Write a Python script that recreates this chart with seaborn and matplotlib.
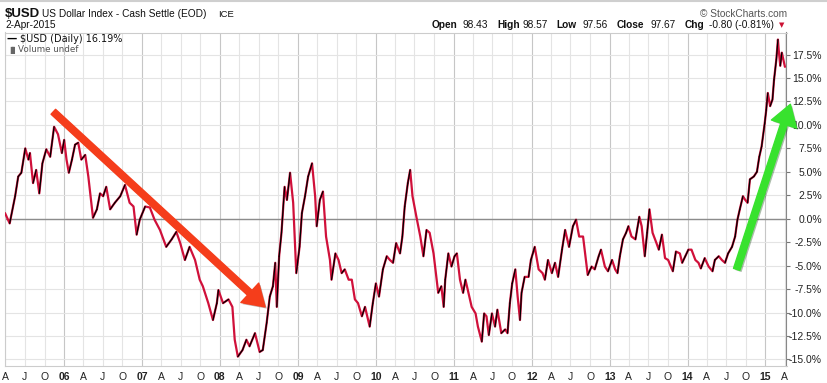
import matplotlib
matplotlib.use("Agg")
import matplotlib.pyplot as plt
import matplotlib.dates as mdates
import matplotlib.patheffects as pe
import seaborn as sns
import pandas as pd
import numpy as np

# readings: decimal year and % change since start, one row per year
dec_years = [
    2005.24, 2005.30, 2005.37, 2005.41, 2005.45, 2005.50, 2005.54, 2005.56, 2005.60, 2005.64, 2005.68, 2005.72, 2005.77, 2005.82, 2005.87, 2005.92, 2005.97,
    2006.00, 2006.03, 2006.06, 2006.10, 2006.14, 2006.18, 2006.22, 2006.27, 2006.31, 2006.37, 2006.42, 2006.46, 2006.50, 2006.54, 2006.59, 2006.65, 2006.72, 2006.78, 2006.84, 2006.89, 2006.93, 2006.97,
    2007.04, 2007.10, 2007.16, 2007.23, 2007.31, 2007.38, 2007.44, 2007.49, 2007.55, 2007.61, 2007.68, 2007.74, 2007.78, 2007.85, 2007.91, 2007.96, 2007.98,
    2008.04, 2008.11, 2008.16, 2008.19, 2008.23, 2008.29, 2008.34, 2008.38, 2008.45, 2008.51, 2008.55, 2008.60, 2008.64, 2008.68, 2008.71, 2008.73, 2008.76, 2008.79, 2008.83, 2008.86, 2008.90, 2008.94, 2008.98,
    2009.02, 2009.05, 2009.09, 2009.13, 2009.18, 2009.22, 2009.24, 2009.28, 2009.32, 2009.36, 2009.41, 2009.43, 2009.48, 2009.52, 2009.56, 2009.60, 2009.65, 2009.69, 2009.73, 2009.77, 2009.82, 2009.86, 2009.92, 2009.96,
    2010.00, 2010.04, 2010.09, 2010.14, 2010.18, 2010.22, 2010.26, 2010.31, 2010.34, 2010.37, 2010.41, 2010.44, 2010.47, 2010.52, 2010.57, 2010.61, 2010.65, 2010.69, 2010.74, 2010.78, 2010.80, 2010.84, 2010.87, 2010.89, 2010.93, 2010.97,
    2011.01, 2011.04, 2011.08, 2011.12, 2011.15, 2011.20, 2011.23, 2011.28, 2011.31, 2011.36, 2011.39, 2011.42, 2011.45, 2011.49, 2011.53, 2011.56, 2011.61, 2011.66, 2011.69, 2011.72, 2011.75, 2011.79, 2011.82, 2011.85, 2011.87, 2011.91, 2011.96, 2011.99,
    2012.04, 2012.09, 2012.14, 2012.17, 2012.21, 2012.26, 2012.30, 2012.34, 2012.39, 2012.43, 2012.48, 2012.53, 2012.57, 2012.61, 2012.66, 2012.68, 2012.72, 2012.77, 2012.81, 2012.86, 2012.89, 2012.94, 2012.98,
    2013.03, 2013.07, 2013.10, 2013.13, 2013.17, 2013.21, 2013.24, 2013.28, 2013.33, 2013.38, 2013.41, 2013.45, 2013.48, 2013.51, 2013.55, 2013.60, 2013.63, 2013.67, 2013.71, 2013.75, 2013.81, 2013.85, 2013.90, 2013.93, 2013.97,
    2014.01, 2014.05, 2014.10, 2014.14, 2014.17, 2014.22, 2014.27, 2014.32, 2014.35, 2014.40, 2014.44, 2014.48, 2014.52, 2014.57, 2014.61, 2014.64, 2014.67, 2014.71, 2014.74, 2014.77, 2014.80, 2014.85, 2014.89, 2014.92, 2014.95, 2014.99,
    2015.01, 2015.03, 2015.06, 2015.09, 2015.11, 2015.14, 2015.16, 2015.17, 2015.19, 2015.21, 2015.25,
]
pct_change = [
    0.6, -0.5, 2.4, 4.5, 4.9, 7.5, 6.3, 7.0, 3.8, 5.2, 2.7, 5.9, 7.4, 6.6, 9.8, 9.0, 7.0,
    8.4, 6.3, 4.9, 6.3, 7.9, 8.1, 6.3, 6.8, 4.5, 0.1, 1.0, 2.7, 2.4, 3.4, 1.0, 1.7, 2.4, 3.6, 1.7, 1.3, -1.7, -0.1,
    1.3, 1.2, -0.1, -1.2, -3.0, -2.2, -1.4, -2.6, -4.4, -3.0, -4.4, -6.5, -7.2, -9.0, -10.8, -9.0, -7.6,
    -9.0, -8.6, -9.4, -12.9, -14.7, -14.0, -12.9, -13.6, -12.2, -14.2, -14.0, -11.1, -8.3, -7.2, -4.7, -9.4, -4.0, -1.5, 3.4, 2.0, 4.9, 1.7, -5.8,
    -3.0, 0.6, 2.4, 4.5, 5.9, 2.4, -0.8, 2.0, 2.9, -1.9, -4.4, -6.5, -3.7, -4.4, -5.8, -5.4, -6.5, -6.5, -8.6, -9.0, -10.4, -9.4, -11.5, -9.0,
    -6.9, -8.3, -5.4, -4.0, -4.4, -4.7, -2.6, -3.7, -1.9, 1.3, 3.8, 5.2, 2.4, 0.2, -1.9, -4.0, -1.2, -1.5, -3.7, -6.5, -7.9, -7.2, -9.4, -6.5, -3.7, -5.1,
    -4.0, -3.7, -6.5, -7.9, -6.5, -8.3, -9.4, -10.1, -11.5, -13.1, -10.1, -10.4, -12.4, -10.1, -11.5, -9.7, -12.2, -11.8, -12.2, -9.0, -6.9, -5.4, -8.3, -10.8, -7.9, -6.2, -6.2, -4.4,
    -3.0, -5.4, -5.8, -6.5, -4.4, -5.8, -4.7, -6.2, -3.3, -1.2, -3.0, -0.8, -0.1, -1.9, -1.9, -3.3, -6.0, -5.1, -5.4, -4.0, -3.3, -5.1, -5.6,
    -4.4, -5.4, -5.8, -4.0, -2.2, -1.5, -0.8, -1.9, -2.2, 0.2, -0.8, -4.0, -1.5, 1.0, -1.5, -2.6, -3.3, -1.7, -4.2, -4.4, -5.6, -3.5, -3.7, -4.7, -4.0,
    -3.3, -3.3, -4.4, -4.7, -5.3, -4.2, -5.1, -5.6, -4.4, -4.0, -4.4, -4.7, -3.7, -3.0, -1.9, -0.1, 1.0, 2.4, 2.0, 1.7, 4.2, 4.5, 5.0, 6.6, 7.7, 10.2,
    11.6, 13.4, 12.0, 12.7, 14.8, 17.0, 19.1, 18.0, 16.3, 17.7, 16.19,
]

y_ticks = [-15.0, -12.5, -10.0, -7.5, -5.0, -2.5, 0.0, 2.5, 5.0, 7.5, 10.0, 12.5, 15.0, 17.5]
month_letters = {4: "A", 7: "J", 10: "O"}

quote_fields = [("Open", "98.43"), ("High", "98.57"), ("Low", "97.56"),
                ("Close", "97.67"), ("Chg", "-0.80 (-0.81%)")]

# hand-drawn trend arrows (decimal year, % value): tail, head
down_arrow = [(2005.86, 11.4), (2008.58, -9.4)]
up_arrow = [(2014.63, -5.4), (2015.32, 12.2)]

LINE_RED = "#d0103a"
W, H = 828, 383


def to_date(y):
    yr = int(y)
    return pd.Timestamp(year=yr, month=1, day=1) + pd.Timedelta(days=(y - yr) * 365.25)


def px(x, y):
    return x / W, 1 - y / H


df = pd.DataFrame({"date": [to_date(y) for y in dec_years], "pct": pct_change})

# rising stretches get a black core, falling ones stay red (stockcharts colour-by-change)
rows = []
for i in range(len(df) - 1):
    if df.pct[i + 1] > df.pct[i]:
        rows.append((i, df.date[i], df.pct[i]))
        rows.append((i, df.date[i + 1], df.pct[i + 1]))
up_segs = pd.DataFrame(rows, columns=["seg", "date", "pct"])

sns.set_style("white")
plt.rcParams["font.family"] = ["Liberation Sans", "DejaVu Sans"]

fig = plt.figure(figsize=(W / 100, H / 100), dpi=100)
ax = fig.add_axes([5 / W, 1 - 366 / H, (786.5 - 5) / W, (366 - 32.5) / H])

sns.lineplot(data=df, x="date", y="pct", color=LINE_RED, lw=1.6, ax=ax, zorder=3)
sns.lineplot(data=up_segs, x="date", y="pct", units="seg", estimator=None,
             color="black", lw=0.9, ax=ax, zorder=3)

ax.set_xlim(to_date(2005.24), to_date(2015.27))
ax.set_ylim(-15.7, 19.85)
ax.set_xlabel("")
ax.set_ylabel("")

# quarterly x ticks: A J O then bold year
qticks = pd.date_range("2005-04-01", "2015-04-01", freq="QS-JAN")
ax.set_xticks(mdates.date2num(qticks.to_pydatetime()))
ax.set_xticklabels([f"{d:%y}" if d.month == 1 else month_letters[d.month] for d in qticks],
                   fontsize=7.5, color="#222222")
for lab, d in zip(ax.get_xticklabels(), qticks):
    if d.month == 1:
        lab.set_fontweight("bold")
ax.tick_params(axis="x", length=0, pad=4)

ax.yaxis.tick_right()
ax.set_yticks(y_ticks)
ax.set_yticklabels([f"{v:.1f}%" for v in y_ticks], fontsize=7.5, color="#222222")
for lab in ax.get_yticklabels():
    lab.set_horizontalalignment("right")
ax.tick_params(axis="y", direction="out", length=3, color="#777777", pad=22.5)

ax.grid(True, color="#e4e4e4", lw=0.8, zorder=0)
for gl, d in zip(ax.get_xgridlines(), qticks):
    if d.month == 1:
        gl.set_color("#c6c6c6")
ax.axhline(0, color="#8c8c8c", lw=1.0, zorder=2)

for side in ["top", "left", "bottom"]:
    ax.spines[side].set_color("#cccccc")
    ax.spines[side].set_linewidth(0.8)
ax.spines["right"].set_color("#888888")
ax.spines["right"].set_linewidth(0.8)


def draw_arrow(pts, color):
    (x0, y0), (x1, y1) = pts
    ax.annotate("", xy=(mdates.date2num(to_date(x1)), y1),
                xytext=(mdates.date2num(to_date(x0)), y0),
                annotation_clip=False,
                arrowprops=dict(arrowstyle="simple,head_length=0.75,head_width=0.95,tail_width=0.24",
                                mutation_scale=20, color=color, shrinkA=0, shrinkB=0, clip_on=False,
                                path_effects=[pe.SimplePatchShadow(offset=(1.2, -1.2), alpha=0.35),
                                              pe.Normal()]),
                zorder=5)


draw_arrow(down_arrow, "#f53d1b")
draw_arrow(up_arrow, "#38e22e")

# header
fig.text(*px(5, 14), "$USD", fontsize=9.5, fontweight="bold", va="center", color="#111111")
fig.text(*px(42.5, 14), "US Dollar Index - Cash Settle (EOD)", fontsize=7.3, va="center", color="#111111")
fig.text(*px(218, 14.5), "ICE", fontsize=6.8, va="center", color="#111111")
fig.text(*px(5, 25.5), "2-Apr-2015", fontsize=7.3, va="center", color="#111111")
fig.text(*px(787, 14), "\u00a9 StockCharts.com", fontsize=7.3, va="center", ha="right", color="#555555")

q_pos = [(431.5, 463), (497, 522.5), (556.5, 582.5), (616.5, 650.5), (685, 709)]
for (name, val), (xn, xv) in zip(quote_fields, q_pos):
    fig.text(*px(xn, 25.5), name, fontsize=7.3, fontweight="bold", va="center", color="#111111")
    fig.text(*px(xv, 25.5), val, fontsize=7.3, va="center", color="#111111")
fig.text(*px(781.5, 25.5), "\u25bc", fontsize=5, va="center", ha="center", color="#cc1133",
         family="DejaVu Sans")

# legend block inside the plot
fig.text(*px(7, 39), "\u2014", fontsize=7.5, fontweight="bold", va="center", color="black",
         family="DejaVu Sans")
fig.text(*px(20, 39), "$USD (Daily) 16.19%", fontsize=7, va="center", color="#111111",
         family="DejaVu Sans")
fig.text(*px(7, 50), "\u2590\u258c", fontsize=5, va="center", color="#666666", family="DejaVu Sans")
fig.text(*px(18.5, 50), "Volume undef", fontsize=6.3, va="center", color="#555555",
         family="DejaVu Sans")

fig.add_artist(plt.Line2D([0, 1], [0.998, 0.998], color="#cfcfcf", lw=1.5, transform=fig.transFigure))

fig.savefig("out.png", dpi=100)
